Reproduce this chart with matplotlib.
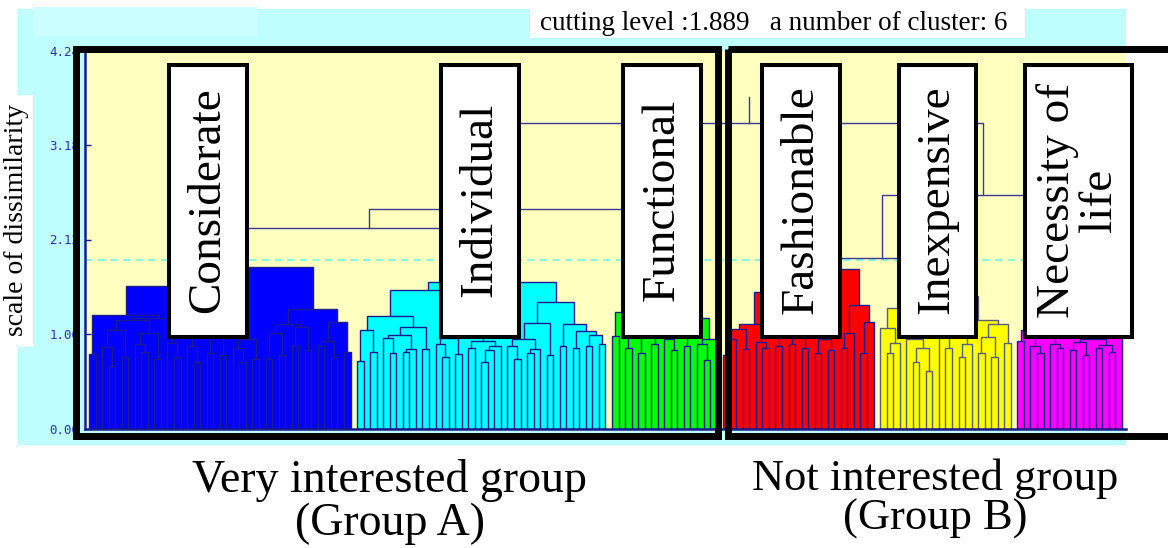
import matplotlib
matplotlib.use("Agg")
import matplotlib.pyplot as plt
from matplotlib.patches import Rectangle

# ---------------- data ----------------
cluster_names  = ["blue", "cyan", "green", "red", "yellow", "magenta"]
cluster_colors = ["#0000ff", "#00ffff", "#00ff00", "#ff0000", "#ffff00", "#ff00ff"]
cluster_edges  = ["#1c1c8c", "#1c1c8c", "#1c1c8c", "#1c1c8c", "#5c5c80", "#1c1c8c"]

# dissimilarity at which each pair of neighbouring leaves is joined (left to right)
blue_gaps = [0.84, 1.27, 0.91, 0.70, 1.10, 0.80, 1.22, 0.95, 0.86, 1.07,
             0.78, 1.24, 0.96, 0.80, 1.15, 0.92, 0.75, 1.05, 0.85, 1.60,
             0.82, 1.12, 0.90, 0.75, 1.00, 0.78, 1.81, 0.78, 1.07, 0.82,
             1.17, 0.93, 1.14, 0.88, 1.34, 0.92, 0.98, 0.80, 1.19, 0.86]
cyan_gaps = [0.76, 1.10, 0.86, 1.26, 1.01, 0.85, 1.05, 0.86, 0.89, 1.14,
             0.89, 1.55, 0.95, 0.80, 1.02, 0.84, 1.30, 0.90, 0.98, 0.75,
             0.88, 0.93, 1.64, 0.92, 0.78, 1.00, 0.85, 0.89, 1.18, 0.82,
             1.42, 0.92, 1.17, 0.90, 1.09, 0.92, 1.05, 0.95]
green_gaps = [1.04, 1.31, 0.90, 1.10, 0.85, 1.20, 0.95, 1.44,
              1.00, 0.88, 1.15, 0.92, 1.24, 0.95, 0.77, 1.00]
red_gaps = [0.83, 1.00, 1.12, 0.89, 1.17, 0.97, 0.90, 1.05, 0.92, 1.53,
            0.95, 1.10, 0.90, 1.25, 0.85, 1.00, 0.88, 1.79, 0.90, 1.07,
            1.39, 0.85, 1.20]
yellow_gaps = [1.13, 0.85, 0.96, 1.35, 1.00, 0.75, 0.90, 0.65, 1.10, 1.49,
               0.90, 1.10, 0.80, 0.95, 1.22, 0.85, 1.03, 0.80, 1.17, 0.96]
magenta_gaps = [0.98, 1.10, 0.93, 0.85, 1.05, 0.95, 0.90, 1.08,
                0.88, 0.97, 0.82, 1.00, 0.90, 0.94, 0.86, 1.13]
cluster_gaps = [blue_gaps, cyan_gaps, green_gaps, red_gaps, yellow_gaps, magenta_gaps]

# merges above the cutting level: (node, left child, right child, height)
upper_merges = [
    ("P", "blue", "cyan", 2.25),
    ("Q", "P", "green", 2.46),
    ("S", "red", "yellow", 1.91),
    ("T", "S", "magenta", 2.62),
    ("R", "Q", "T", 3.43),
]
root_top  = 3.72
cut_level = 1.889
y_ticks   = [0.00, 1.06, 2.12, 3.18, 4.24]

label_texts = ["Considerate", "Individual", "Functional",
               "Fashionable", "Inexpensive", "Necessity of\nlife"]
group_texts = ["Very interested group\n(Group A)", "Not interested group\n(Group B)"]
y_title = "scale of dissimilarity"

# ---------------- helpers ----------------
def build(gaps, start, lo, hi, rects):
    # split ordered leaves lo..hi at their largest gap, return node x
    if lo == hi:
        return start + lo
    k = max(range(lo, hi), key=lambda i: gaps[i])
    xl = build(gaps, start, lo, k, rects)
    xr = build(gaps, start, k + 1, hi, rects)
    rects.append((xl, xr, gaps[k]))
    return (xl + xr) / 2.0


W, H = 1168, 548
SERIF = "Liberation Serif"
NAVY = "#1c1c8c"

fig = plt.figure(figsize=(W / 100, H / 100), dpi=100)
fig.patch.set_facecolor("white")

# background layer (pixel coords)
bg = fig.add_axes([0, 0, 1, 1], zorder=0)
bg.set_xlim(0, W); bg.set_ylim(H, 0); bg.axis("off")
bg.add_patch(Rectangle((18, 9), 1126 - 18, 445 - 9, color="#c0ffff", lw=0))
bg.add_patch(Rectangle((33, 7), 257 - 33, 36 - 7, color="#ccffff", lw=0))
bg.add_patch(Rectangle((0, 95), 33, 347 - 95, color="white", lw=0))
bg.add_patch(Rectangle((530, 8), 1025 - 530, 38 - 8, color="white", lw=0))

# dendrogram axes
n_leaves = sum(len(g) + 1 for g in cluster_gaps)
ax = fig.add_axes([85 / W, 1 - 428.5 / H, 1041 / W, 378 / H], zorder=1)
ax.set_facecolor("#ffffc0")
ax.set_xlim(-0.61, n_leaves - 1 + 0.61)
ax.set_ylim(0, 4.24)

nodes = {}
start = 0
for name, col, ec, gaps in zip(cluster_names, cluster_colors, cluster_edges, cluster_gaps):
    rects = []
    x = build(gaps, start, 0, len(gaps), rects)
    nodes[name] = (x, max(gaps))
    for xl, xr, h in sorted(rects, key=lambda r: -r[2]):
        ax.add_patch(Rectangle((xl, 0), xr - xl, h, facecolor=col,
                               edgecolor=ec, lw=1.0, zorder=2))
    start += len(gaps) + 1

for name, left, right, h in upper_merges:
    xl, hl = nodes[left]
    xr, hr = nodes[right]
    ax.plot([xl, xl, xr, xr], [hl, h, h, hr], color="#3a3a96", lw=1.0, zorder=3)
    nodes[name] = ((xl + xr) / 2.0, h)
xr_, hr_ = nodes[upper_merges[-1][0]]
ax.plot([xr_, xr_], [hr_, root_top], color="#3a3a96", lw=1.0, zorder=3)

ax.axhline(cut_level, color="#80f4e4", lw=1.3, ls=(0, (4, 3)), zorder=1)

for s in ["top", "right"]:
    ax.spines[s].set_visible(False)
for s in ["left", "bottom"]:
    ax.spines[s].set_color(NAVY)
    ax.spines[s].set_linewidth(1.8)
ax.set_xticks([])
ax.set_yticks(y_ticks)
ax.set_yticklabels(["%.2f" % v for v in y_ticks], family="DejaVu Sans Mono",
                   fontsize=9, color="#3030b0")
ax.tick_params(axis="y", direction="in", length=4.5, width=1, color=NAVY, pad=4)

# overlay layer (pixel coords)
ov = fig.add_axes([0, 0, 1, 1], zorder=2)
ov.set_xlim(0, W); ov.set_ylim(H, 0); ov.axis("off")

label_box_x = [(167, 249), (439, 521), (621, 703), (760, 842), (897, 978), (1023, 1134)]
y0, y1 = 63, 339
for (x0, x1), txt in zip(label_box_x, label_texts):
    ov.add_patch(Rectangle((x0 + 2, y0 + 2), x1 - x0 - 4, y1 - y0 - 4,
                           facecolor="white", edgecolor="black", lw=2.9))
    ov.text((x0 + x1) / 2, (y0 + y1) / 2 - 1, txt, rotation=90, ha="center",
            va="center", family=SERIF, fontsize=34, linespacing=1.0,
            multialignment="center")

# group frames
ov.add_patch(Rectangle((76, 48.5), 717.5 - 76, 436 - 48.5, fill=False,
                       edgecolor="black", lw=5.0, joinstyle="miter"))
ov.add_patch(Rectangle((727.5, 48.5), 1220 - 727.5, 436 - 48.5, fill=False,
                       edgecolor="black", lw=5.0, joinstyle="miter", clip_on=False))

ov.text(774, 24, "cutting level :%.3f   a number of cluster: %d"
        % (cut_level, len(cluster_names)), ha="center", va="center",
        family=SERIF, fontsize=19.5)
ov.text(17, 220, y_title, rotation=90, ha="center", va="center",
        family=SERIF, fontsize=20)
ov.text(390, 502, group_texts[0], ha="center", va="center", family=SERIF,
        fontsize=33, linespacing=1.0)
ov.text(935, 499, group_texts[1], ha="center", va="center", family=SERIF,
        fontsize=32, linespacing=1.0)

fig.savefig("out.png", dpi=100)
